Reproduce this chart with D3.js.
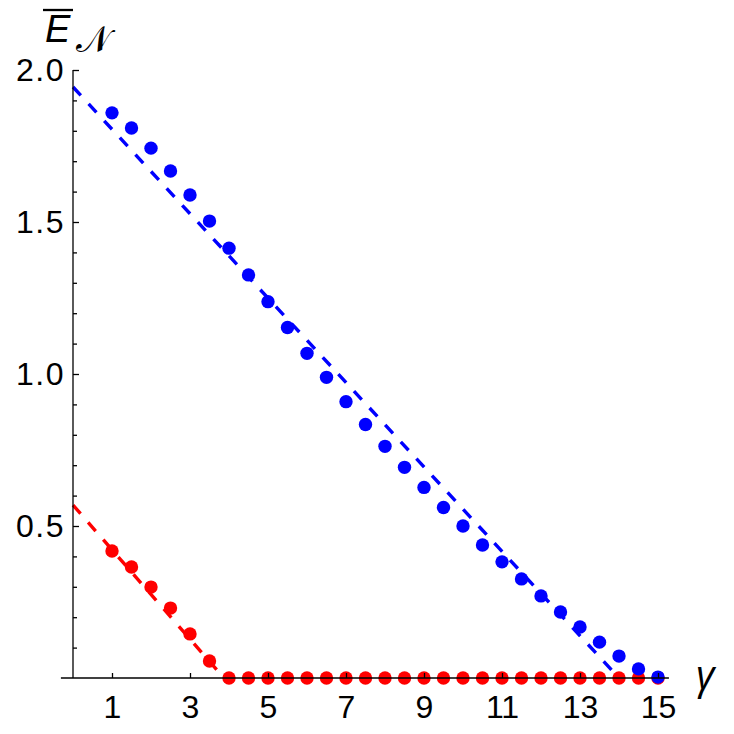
<!DOCTYPE html>
<html>
<head>
<meta charset="utf-8">
<script src="https://cdn.jsdelivr.net/npm/d3@7"></script>
<style>
  html, body { margin: 0; padding: 0; background: #fff; }
  svg { display: block; }
  .tick text { font-family: "Liberation Sans", "Open Sans", sans-serif; font-size: 32px; fill: #000; }
</style>
</head>
<body>
<svg id="chart" width="734" height="734"></svg>
<script>
// ---- data ----
const gammaValues = [1, 1.5, 2, 2.5, 3, 3.5, 4, 4.5, 5, 5.5, 6, 6.5, 7, 7.5, 8, 8.5, 9, 9.5, 10, 10.5, 11, 11.5, 12, 12.5, 13, 13.5, 14, 14.5, 15];
const blueValues = [1.859, 1.809, 1.743, 1.668, 1.589, 1.503, 1.414, 1.326, 1.238, 1.153, 1.068, 0.989, 0.909, 0.834, 0.762, 0.693, 0.627, 0.561, 0.5, 0.4375, 0.382, 0.326, 0.27, 0.217, 0.168, 0.118, 0.072, 0.03, 0.003];
const redValues = [0.418, 0.365, 0.299, 0.23, 0.145, 0.056, 0, 0, 0, 0, 0, 0, 0, 0, 0, 0, 0, 0, 0, 0, 0, 0, 0, 0, 0, 0, 0, 0, 0];
const blueFitX = [0, 14.0];
const blueFitY = [1.944, 0];
const redFitX = [0, 3.87];
const redFitY = [0.569, 0];
const xTickValues = [1, 3, 5, 7, 9, 11, 13, 15];
const yMajorTicks = [0.5, 1.0, 1.5, 2.0];
const yMinorTicks = [0.1, 0.2, 0.3, 0.4, 0.6, 0.7, 0.8, 0.9, 1.1, 1.2, 1.3, 1.4, 1.6, 1.7, 1.8, 1.9];
const xAxisExtent = [-0.31, 15.28];

// ---- scales ----
const svg = d3.select("#chart");
const x = d3.scaleLinear().domain([0, 15]).range([73, 658]);
const y = d3.scaleLinear().domain([0, 2]).range([678, 70]);

const line = d3.line().x(d => x(d[0])).y(d => y(d[1]));

// dashed fit lines
svg.append("path")
  .datum(blueFitX.map((v, i) => [v, blueFitY[i]]))
  .attr("d", line)
  .attr("fill", "none").attr("stroke", "#0000ff")
  .attr("stroke-width", 3.4).attr("stroke-dasharray", "11.5,11.5");
svg.append("path")
  .datum(redFitX.map((v, i) => [v, redFitY[i]]))
  .attr("d", line)
  .attr("fill", "none").attr("stroke", "#ff0000")
  .attr("stroke-width", 3.4).attr("stroke-dasharray", "11.5,11.5");

// points
svg.append("g").selectAll("circle")
  .data(gammaValues.map((g, i) => [g, redValues[i]]))
  .join("circle")
  .attr("cx", d => x(d[0])).attr("cy", d => y(d[1]))
  .attr("r", 6.7).attr("fill", "#ff0000");
svg.append("g").selectAll("circle")
  .data(gammaValues.map((g, i) => [g, blueValues[i]]))
  .join("circle")
  .attr("cx", d => x(d[0])).attr("cy", d => y(d[1]))
  .attr("r", 6.7).attr("fill", "#0000ff");

// y axis (major)
const yAxisG = svg.append("g").attr("transform", `translate(${x(0)},0)`)
  .call(d3.axisLeft(y).tickValues(yMajorTicks).tickSize(-6).tickSizeOuter(0).tickPadding(8)
    .tickFormat(d3.format(".1f")));
yAxisG.select(".domain").remove();
yAxisG.selectAll(".tick line").attr("stroke-width", 1.3);
yAxisG.selectAll(".tick text").attr("letter-spacing", 1.5);
// y minor ticks
const yMinorG = svg.append("g").attr("transform", `translate(${x(0)},0)`)
  .call(d3.axisLeft(y).tickValues(yMinorTicks).tickSize(-4).tickFormat(""));
yMinorG.select(".domain").remove();
yMinorG.selectAll(".tick line").attr("stroke-width", 1.3);
// y axis line
svg.append("line")
  .attr("x1", x(0)).attr("x2", x(0)).attr("y1", y(0)).attr("y2", y(2))
  .attr("stroke", "#000").attr("stroke-width", 1.3);

// x axis
const xAxisG = svg.append("g").attr("transform", `translate(0,${y(0)})`)
  .call(d3.axisBottom(x).tickValues(xTickValues).tickSize(-5).tickSizeOuter(0).tickPadding(17));
xAxisG.select(".domain").remove();
xAxisG.selectAll(".tick line").attr("stroke-width", 1.3);
svg.append("line")
  .attr("x1", x(xAxisExtent[0])).attr("x2", x(xAxisExtent[1]))
  .attr("y1", y(0)).attr("y2", y(0))
  .attr("stroke", "#000").attr("stroke-width", 1.3);

// axis labels
svg.append("text")
  .attr("x", 696).attr("y", 689)
  .attr("font-family", "'Open Sans', 'DejaVu Sans', sans-serif")
  .attr("font-style", "italic").attr("font-size", 40)
  .text("γ");

svg.append("text")
  .attr("x", 45).attr("y", 42)
  .attr("font-family", "'Liberation Sans', 'Open Sans', sans-serif")
  .attr("font-style", "italic").attr("font-size", 38)
  .text("E");
svg.append("line")
  .attr("x1", 43).attr("x2", 73).attr("y1", 10).attr("y2", 10)
  .attr("stroke", "#000").attr("stroke-width", 2.3);
svg.append("text")
  .attr("x", 76).attr("y", 52)
  .attr("font-family", "'DejaVu Sans', 'Noto Sans', serif")
  .attr("font-size", 36)
  .text("𝒩");
</script>
</body>
</html>
